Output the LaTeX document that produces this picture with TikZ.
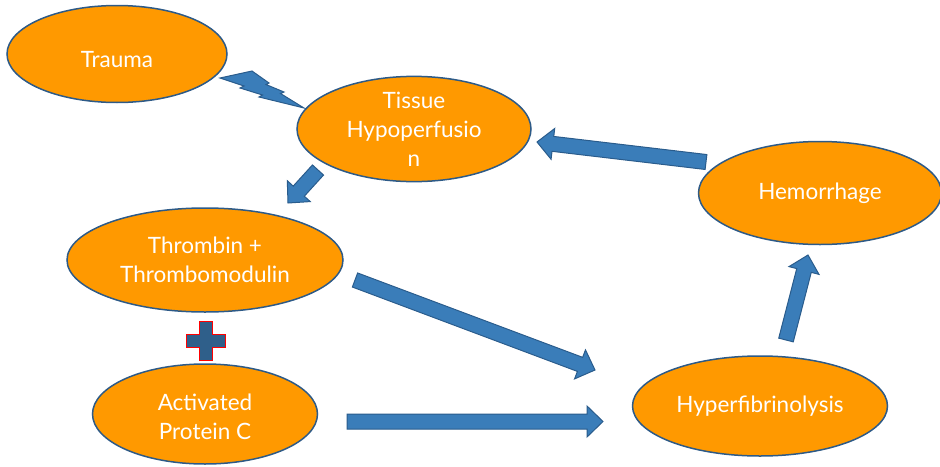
\documentclass[tikz,border=0pt]{standalone}
\usepackage{fontspec}
\setmainfont{Lato}
\usepackage{tikz}
\usetikzlibrary{calc,shapes.geometric}

\definecolor{ovalorange}{RGB}{255,153,0}
\definecolor{ovaledge}{RGB}{45,90,135}
\definecolor{arrowblue}{RGB}{58,125,185}
\definecolor{arrowedge}{RGB}{42,92,140}
\definecolor{plusblue}{RGB}{47,95,138}

\newcommand{\fatarrow}[2]{%
    \coordinate (hb) at ($(#2)!16pt!(#1)$);
    \draw[blockarrow] ($(#1)!7.5pt!90:(#2)$) -- ($(hb)!7.5pt!90:(#2)$) -- ($(hb)!15.5pt!90:(#2)$) -- (#2)
        -- ($(hb)!15.5pt!-90:(#2)$) -- ($(hb)!7.5pt!-90:(#2)$) -- ($(#1)!7.5pt!-90:(#2)$) -- cycle;}

\begin{document}
\begin{tikzpicture}[x=1pt,y=-1pt,
    oval/.style={draw=ovaledge, line width=1.5pt, fill=ovalorange, ellipse, inner sep=0pt,
        text=white, align=center, font=\fontsize{22.5}{29}\selectfont},
    blockarrow/.style={draw=arrowedge, line width=1pt, fill=arrowblue, line join=miter}]
    \useasboundingbox (0,0) rectangle (940,466);
    % ovals
    \node[oval, minimum width=220pt, minimum height=97pt] (trauma) at (117,54) {};
    \node[white, font=\fontsize{22.5}{29}\selectfont] at (117,60) {Trauma};
    \node[oval, minimum width=234pt, minimum height=98pt] (tissue) at (414,129) {Tissue\\Hypoperfusio\\n};
    \node[oval, minimum width=276pt, minimum height=104pt] (thrombin) at (205,260) {Thrombin +\\Thrombomodulin};
    \node[oval, minimum width=225pt, minimum height=100pt] (apc) at (205,414) {};
    \node[white, align=center, font=\fontsize{22.5}{29}\selectfont] at (205,417) {Activated\\Protein C};
    \node[oval, minimum width=255pt, minimum height=100pt] (hyper) at (760,406) {Hyperfibrinolysis};
    \node[oval, minimum width=243pt, minimum height=103pt] (hemo) at (820,193) {Hemorrhage};
    % arrow ends
    \coordinate (tisTail) at (318,170);
    \coordinate (tisTip) at (288,203);
    \coordinate (thrTail) at (355,280);
    \coordinate (thrTip) at (595,370);
    \coordinate (apcTail) at (347,421.5);
    \coordinate (apcTip) at (603,421.5);
    \coordinate (hypTail) at (786,340);
    \coordinate (hypTip) at (808,255);
    \coordinate (hemTail) at (706,162);
    \coordinate (hemTip) at (537,142);
    \fatarrow{tisTail}{tisTip}
    \fatarrow{thrTail}{thrTip}
    \fatarrow{apcTail}{apcTip}
    \fatarrow{hypTail}{hypTip}
    \fatarrow{hemTail}{hemTip}
    % lightning
    \draw[blockarrow] (220,78) -- (252,71) -- (269,83) -- (266,84.5) -- (284,92) -- (280.5,93.5) -- (304,108)
        -- (259,97) -- (262.5,95) -- (240,88) -- (244,86) -- cycle;
    % plus
    \coordinate (plus) at (205.5,341);
    \draw[fill=plusblue, draw=red, line width=1pt, shift={(plus)}]
        (-6.5,-19.5) -- (6.5,-19.5) -- (6.5,-6.5) -- (19.5,-6.5) -- (19.5,6.5) -- (6.5,6.5)
        -- (6.5,19.5) -- (-6.5,19.5) -- (-6.5,6.5) -- (-19.5,6.5) -- (-19.5,-6.5) -- (-6.5,-6.5) -- cycle;
\end{tikzpicture}
\end{document}
